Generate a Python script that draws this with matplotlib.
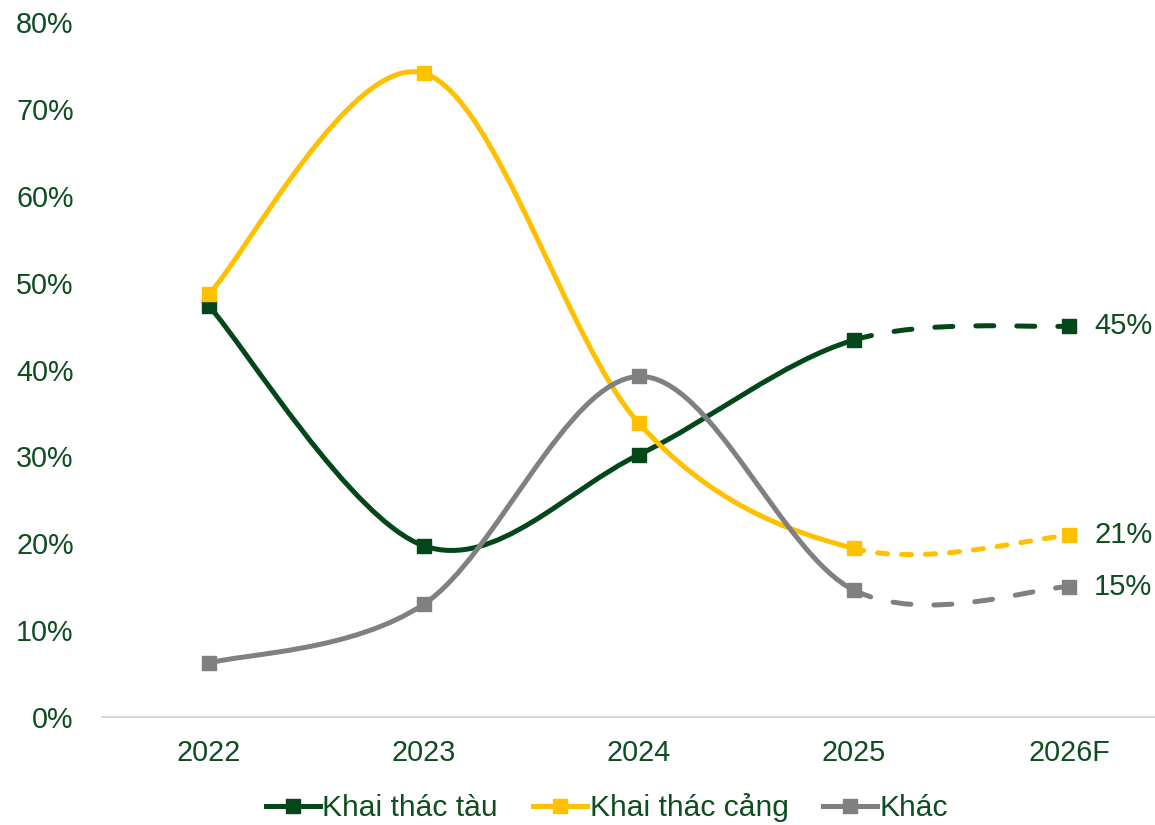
import matplotlib
matplotlib.use("Agg")
import matplotlib.pyplot as plt
from matplotlib.path import Path
from matplotlib.patches import PathPatch
from matplotlib.lines import Line2D

plt.rcParams['font.family'] = ['Liberation Sans', 'DejaVu Sans']

years = ["2022", "2023", "2024", "2025", "2026F"]
tau = [47.3, 19.7, 30.2, 43.4, 45.0]
cang = [48.7, 74.1, 33.8, 19.4, 20.9]
khac = [6.2, 13.0, 39.2, 14.6, 15.0]
end_labels = ["45%", "21%", "15%"]

GREEN = "#02461A"
YELLOW = "#FFC000"
GREY = "#808080"
TEXT = "#0E4D1F"
LW = 3.6


def smooth_path(xs, ys, i0, i1):
    # excel-like smoothing: cubic bezier, control points from neighbours / 6
    n = len(xs)
    verts, codes = [(xs[i0], ys[i0])], [Path.MOVETO]
    for i in range(i0, i1):
        a = max(i - 1, 0)
        b = min(i + 2, n - 1)
        c1 = (xs[i] + (xs[i + 1] - xs[a]) / 6, ys[i] + (ys[i + 1] - ys[a]) / 6)
        c2 = (xs[i + 1] - (xs[b] - xs[i]) / 6, ys[i + 1] - (ys[b] - ys[i]) / 6)
        verts += [c1, c2, (xs[i + 1], ys[i + 1])]
        codes += [Path.CURVE4] * 3
    return Path(verts, codes)


fig = plt.figure(figsize=(11.55, 8.25), dpi=100)
ax = fig.add_axes([101.5 / 1155, 1 - 717 / 825, 1075 / 1155, 695 / 825])

x = list(range(len(years)))
series = [(tau, GREEN, (0, (3.6, 4.6))),
          (cang, YELLOW, (0, (2.0, 2.8))),
          (khac, GREY, (0, (3.6, 4.6)))]

for vals, col, dash in series:
    ax.add_patch(PathPatch(smooth_path(x, vals, 0, 3), fill=False, edgecolor=col,
                           lw=LW, capstyle='round', joinstyle='round'))
    ax.add_patch(PathPatch(smooth_path(x, vals, 3, 4), fill=False, edgecolor=col,
                           lw=LW, linestyle=dash, capstyle='round'))
    ax.plot(x, vals, linestyle='none', marker='s', markersize=10, color=col, zorder=3)

for vals, lab in zip([tau, cang, khac], end_labels):
    ax.annotate(lab, (x[-1], vals[-1]), xytext=(18, 0), textcoords='offset points',
                va='center', ha='left', fontsize=21, color=TEXT, annotation_clip=False)

ax.set_xlim(-0.5, 4.5)
ax.set_ylim(0, 80)
ax.set_xticks(x)
ax.set_xticklabels(years)
ax.set_yticks(range(0, 81, 10))
ax.set_yticklabels([f"{v}%" for v in range(0, 81, 10)])
ax.tick_params(axis='both', length=0, labelsize=20.7, labelcolor=TEXT)
ax.tick_params(axis='y', pad=20)
ax.tick_params(axis='x', pad=16)
for s in ['top', 'right', 'left']:
    ax.spines[s].set_visible(False)
ax.spines['bottom'].set_color('#D9D9D9')
ax.spines['bottom'].set_linewidth(1.5)

handles = [Line2D([], [], color=c, lw=LW, marker='s', markersize=9.5) for _, c, _ in series]
leg = fig.legend(handles, ["Khai thác tàu", "Khai thác cảng", "Khác"], loc='center',
                 bbox_to_anchor=(607 / 1155, 1 - 808 / 825), ncol=3, frameon=False,
                 fontsize=21.6, handlelength=1.8, handletextpad=0.1, columnspacing=1.15)
for t in leg.get_texts():
    t.set_color(TEXT)

fig.savefig("out.png", dpi=100)
